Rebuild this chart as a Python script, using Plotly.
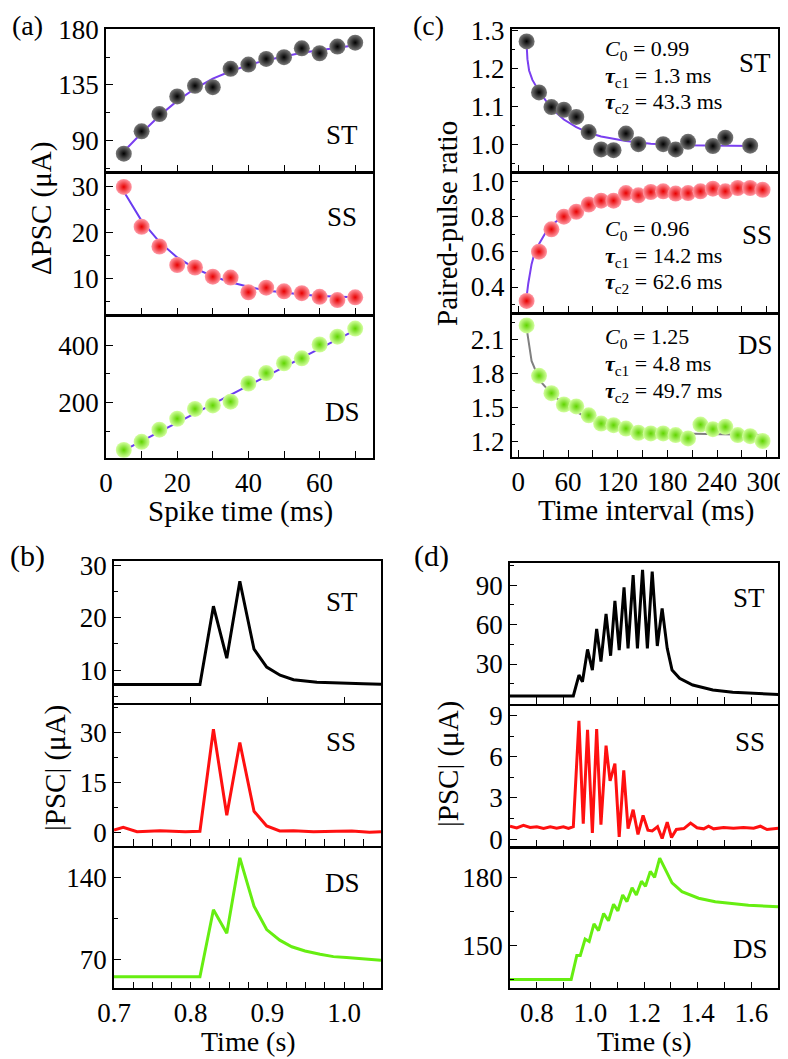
import plotly.graph_objects as go

W, H = 788, 1059

# ---------------- panel (a): delta PSC vs spike time ----------------
a_t = [5, 10, 15, 20, 25, 30, 35, 40, 45, 50, 55, 60, 65, 70]
a_st = [79.2, 97.3, 111.3, 125.6, 134.2, 133.1, 148.0, 151.4, 156.0, 157.4, 164.6, 160.6, 166.0, 169.2]
a_st_fit = [81, 96, 110, 122, 132, 140, 146, 151, 155, 158, 161, 163, 165, 167]
a_ss = [30.0, 21.3, 17.0, 12.95, 12.4, 10.4, 10.2, 7.0, 8.0, 7.2, 6.8, 6.0, 5.3, 5.9]
a_ss_fit = [29.0, 22.6, 18.0, 14.6, 12.2, 10.5, 9.2, 8.2, 7.4, 6.9, 6.5, 6.2, 6.0, 5.9]
a_ds = [36.6, 65, 107, 145, 179, 191, 204, 267, 303, 337, 354, 402, 429, 457]
a_ds_fit_t = [5, 70]
a_ds_fit = [35, 452]

# ---------------- panel (c): paired-pulse ratio ----------------
c_t = [10, 25, 40, 55, 70, 85, 100, 115, 130, 145, 160, 175, 190, 205, 220, 235, 250, 265, 280, 295]
c_st_t = [10, 25, 40, 55, 70, 85, 100, 115, 130, 145, 175, 190, 205, 235, 250, 280]
c_st = [1.272, 1.137, 1.098, 1.091, 1.072, 1.032, 0.986, 0.984, 1.028, 1.0,
        1.0, 0.986, 1.006, 0.995, 1.017, 0.996]
c_st_fit_t = [10, 11, 13, 17, 25, 40, 55, 70, 85, 100, 130, 160, 200, 250, 285]
c_st_fit = [1.265, 1.225, 1.195, 1.17, 1.14, 1.095, 1.065, 1.045, 1.03, 1.02,
            1.008, 1.001, 0.997, 0.995, 0.995]
c_ss = [0.321, 0.601, 0.728, 0.80, 0.828, 0.869, 0.891, 0.891, 0.934, 0.921,
        0.94, 0.944, 0.931, 0.934, 0.944, 0.959, 0.944, 0.963, 0.963, 0.953]
c_ss_fit_t = [10, 12, 16, 20, 25, 33, 41, 50, 58, 75, 95, 116, 157, 199, 240, 295]
c_ss_fit = [0.344, 0.42, 0.53, 0.6, 0.644, 0.71, 0.756, 0.79, 0.816, 0.85,
            0.878, 0.897, 0.925, 0.94, 0.948, 0.953]
c_ds = [2.225, 1.779, 1.625, 1.525, 1.508, 1.429, 1.356, 1.342, 1.312, 1.275,
        1.269, 1.269, 1.254, 1.225, 1.347, 1.307, 1.327, 1.254, 1.245, 1.202]
c_ds_fit_t = [10, 12, 16, 26, 42, 58, 74, 95, 115, 135, 155, 195, 236, 295]
c_ds_fit = [2.2, 2.1, 1.91, 1.735, 1.604, 1.517, 1.444, 1.371, 1.327, 1.298,
            1.283, 1.269, 1.263, 1.254]

# ---------------- panel (b): paired pulse response ----------------
b_st_t = [0.70, 0.812, 0.8296, 0.847, 0.864, 0.8825, 0.899, 0.9165, 0.934, 0.95,
          0.9645, 0.985, 1.0, 1.025, 1.048]
b_st = [7.3, 7.3, 22.2, 12.3, 26.95, 14.0, 10.6, 9.05, 8.2, 7.9, 7.7, 7.6, 7.5, 7.4, 7.35]
b_ss_t = [0.70, 0.712, 0.73, 0.76, 0.793, 0.812, 0.8296, 0.847, 0.864, 0.8825,
          0.899, 0.916, 0.934, 0.96, 0.99, 1.01, 1.033, 1.048]
b_ss = [0.7, 1.5, 0.2, 0.5, 0.2, 0.3, 30.9, 5.1, 26.9, 6.3, 1.9, 0.4, 0.5, 0.2, 0.3, 0.4, 0.0, 0.2]
b_ds_t = [0.70, 0.812, 0.8296, 0.847, 0.864, 0.8825, 0.899, 0.916, 0.9317, 0.949,
          0.9686, 0.986, 1.003, 1.029, 1.048]
b_ds = [55.4, 55.4, 112.3, 92.4, 156.4, 115.3, 95.5, 86.5, 80.9, 77.3, 74.5, 72.5, 71.7, 70.3, 69.5]

# ---------------- panel (d): pulse train response ----------------
d_st_t = [0.70, 0.936, 0.957, 0.97, 0.989, 1.007, 1.023, 1.039, 1.058, 1.075,
          1.091, 1.107, 1.125, 1.140, 1.159, 1.175, 1.194, 1.212, 1.230, 1.249,
          1.267, 1.286, 1.304, 1.332, 1.381, 1.456, 1.53, 1.604, 1.70]
d_st = [5.7, 5.7, 21.6, 16.5, 41.1, 25.4, 56.6, 31.8, 68.0, 36.3,
        77.9, 40.6, 88.2, 41.9, 97.5, 41.9, 101.5, 41.9, 100.3, 43.7,
        72.3, 41.9, 25.4, 19.1, 14.0, 10.2, 8.5, 7.7, 6.9]
d_ss_t = [0.70, 0.725, 0.75, 0.775, 0.80, 0.825, 0.85, 0.874, 0.899, 0.918, 0.936,
          0.957, 0.973, 0.989, 1.007, 1.023, 1.039, 1.058, 1.073, 1.091, 1.107,
          1.124, 1.14, 1.159, 1.177, 1.196, 1.214, 1.23, 1.25, 1.267, 1.286,
          1.302, 1.32, 1.348, 1.373, 1.397, 1.422, 1.44, 1.459, 1.496, 1.533,
          1.57, 1.608, 1.633, 1.658, 1.70]
d_ss = [0.94, 0.82, 1.0, 0.85, 0.9, 0.78, 0.9, 0.8, 0.9, 0.78, 0.9,
        8.6, 1.13, 7.96, 0.45, 8.0, 1.06, 6.8, 4.24, 5.49, 0.17,
        5.01, 0.77, 2.14, 0.34, 1.73, 0.65, 0.6, 0.9, 0.05, 1.24,
        0.12, 0.7, 0.77, 1.17, 0.83, 0.75, 0.94, 0.75, 0.85, 0.8,
        0.85, 0.8, 0.94, 0.7, 0.8]
d_ds_t = [0.70, 0.928, 0.949, 0.962, 0.98, 0.995, 1.013, 1.03, 1.049, 1.067,
          1.086, 1.102, 1.12, 1.136, 1.155, 1.171, 1.19, 1.205, 1.223, 1.239,
          1.258, 1.279, 1.304, 1.341, 1.403, 1.465, 1.527, 1.589, 1.70]
d_ds = [134.9, 134.9, 145.6, 145.6, 152.9, 151.8, 159.6, 156.6, 164.2, 161.0,
        168.3, 165.4, 172.4, 169.5, 175.6, 172.4, 178.5, 176.3, 182.9, 180.3,
        188.8, 183.7, 177.8, 173.9, 171.0, 169.4, 168.6, 167.9, 167.2]

FONT = "Liberation Serif"
TICKFONT = dict(family=FONT, size=27, color="black")
LW = 1.5
OFF = 8  # the page's body margin moves the figure 8 px right and down


def px(x):
    return (x - OFF) / W


def py(y):
    return 1 - (y - OFF) / H


fig = go.Figure()
layout = {}


def add_axes(n, xpx, ypx, xrange, xdtick, xminor, ydtick, yminor, yrange,
             show_x=False, xfmt=None, yfmt=None, yvals=None):
    suffix = "" if n == 1 else str(n)
    xa = dict(
        domain=[px(xpx[0]), px(xpx[1])], range=xrange, anchor="y" + suffix,
        showline=True, linecolor="black", linewidth=LW, mirror=True, automargin=False,
        ticks="inside", ticklen=7, tickwidth=1.3, tickcolor="black",
        showgrid=False, zeroline=False, tick0=0, dtick=xdtick,
        minor=dict(ticks="inside", ticklen=7, tickwidth=1.3, tickcolor="black", dtick=xminor),
        showticklabels=show_x, tickfont=TICKFONT,
    )
    if xfmt:
        xa["tickformat"] = xfmt
    ya = dict(
        domain=[py(ypx[1]), py(ypx[0])], range=yrange, anchor="x" + suffix,
        showline=True, linecolor="black", linewidth=LW, mirror=True, automargin=False,
        ticks="inside", ticklen=7, tickwidth=1.3, tickcolor="black",
        showgrid=False, zeroline=False, tick0=0, dtick=ydtick,
        minor=dict(ticks="inside", ticklen=4, tickwidth=1.3, tickcolor="black", dtick=yminor),
        tickfont=TICKFONT,
    )
    if yfmt:
        ya["tickformat"] = yfmt
    if yvals:
        ya["tickmode"] = "array"
        ya["tickvals"] = yvals
    layout["xaxis" + suffix] = xa
    layout["yaxis" + suffix] = ya
    return "x" + suffix, "y" + suffix


def spheres(xa, ya, x, y, light, dark):
    # shaded balls: light centre fading to a dark rim
    fig.add_trace(go.Scatter(x=x, y=y, mode="markers", xaxis=xa, yaxis=ya, showlegend=False,
                             marker=dict(size=16, color=light, line=dict(width=0),
                                         gradient=dict(type="radial", color=dark))))


def line(xa, ya, x, y, color, width=2):
    fig.add_trace(go.Scatter(x=x, y=y, mode="lines", xaxis=xa, yaxis=ya, showlegend=False,
                             line=dict(color=color, width=width)))


BLACK = ("#7a7a7a", "#000000")
RED = ("#ff9aa6", "#e80000")
GREEN = ("#d4ffa0", "#5fd400")
FIT = "#6a3cf0"


# lower panels start one line-width below the shared border so both lines overlap
def rows(top, b1, b2, bottom):
    return [top, b1], [b1 + LW, b2], [b2 + LW, bottom]


# panel (a)
ax_x = [106, 373]
r1, r2, r3 = rows(29.3, 171.7, 314.7, 457.7)
xa, ya = add_axes(1, ax_x, r1, [0, 75], 10, 10, 45, 22.5, [64.6, 180])
line(xa, ya, a_t, a_st_fit, "#7a3ff0")
spheres(xa, ya, a_t, a_st, *BLACK)
xa, ya = add_axes(2, ax_x, r2, [0, 75], 10, 10, 10, 5, [2.1, 33])
line(xa, ya, a_t, a_ss_fit, FIT)
spheres(xa, ya, a_t, a_ss, *RED)
xa, ya = add_axes(3, ax_x, r3, [0, 75], 20, 10, 200, 100, [10, 500], show_x=True)
line(xa, ya, a_ds_fit_t, a_ds_fit, FIT)
spheres(xa, ya, a_t, a_ds, *GREEN)

# panel (c)
cx = [511.7, 778.3]
r1, r2, r3 = rows(29.3, 171.7, 312.7, 456.7)
xa, ya = add_axes(4, cx, r1, [-8, 314], 30, 30, 0.1, 0.05, [0.927, 1.304], yfmt=".1f")
line(xa, ya, c_st_fit_t, c_st_fit, "#7a3ff0")
spheres(xa, ya, c_st_t, c_st, *BLACK)
xa, ya = add_axes(5, cx, r2, [-8, 314], 30, 30, 0.2, 0.1, [0.254, 1.047], yfmt=".1f")
line(xa, ya, c_ss_fit_t, c_ss_fit, "#7a3ff0")
spheres(xa, ya, c_t, c_ss, *RED)
xa, ya = add_axes(6, cx, r3, [-8, 314], 60, 30, 0.3, 0.15, [1.063, 2.324], show_x=True, yfmt=".1f")
line(xa, ya, c_ds_fit_t, c_ds_fit, "#808080")
spheres(xa, ya, c_t, c_ds, *GREEN)

# panel (b)
bx = [114, 381]
r1, r2, r3 = rows(561, 703.3, 846, 988.3)
xa, ya = add_axes(7, bx, r1, [0.7, 1.048], 0.1, 0.1, 10, 5, [3.7, 30.8])
line(xa, ya, b_st_t, b_st, "black", 3)
xa, ya = add_axes(8, bx, r2, [0.7, 1.048], 0.1, 0.025, 15, 7.5, [-4.1, 38.2])
line(xa, ya, b_ss_t, b_ss, "#ff1010", 3)
xa, ya = add_axes(9, bx, r3, [0.7, 1.048], 0.1, 0.025, 70, 35, [45.6, 165.2], show_x=True, xfmt=".1f")
line(xa, ya, b_ds_t, b_ds, "#66ee11", 3)

# panel (d)
dx = [510, 778.3]
r1, r2, r3 = rows(562.7, 704, 846.7, 988.3)
xa, ya = add_axes(10, dx, r1, [0.7, 1.7], 0.1, 0.1, 30, 15, [-0.4, 107], yvals=[30, 60, 90])
line(xa, ya, d_st_t, d_st, "black", 3)
xa, ya = add_axes(11, dx, r2, [0.7, 1.7], 0.1, 0.1, 3, 1.5, [-0.55, 9.72])
line(xa, ya, d_ss_t, d_ss, "#ff1010", 3)
xa, ya = add_axes(12, dx, r3, [0.7, 1.7], 0.2, 0.1, 30, 15, [131, 193.2], show_x=True, xfmt=".1f")
line(xa, ya, d_ds_t, d_ds, "#66ee11", 3)

annotations = []


def text(s, x, y, size=26, xanchor="center", angle=0):
    annotations.append(dict(text=s, x=px(x), y=py(y), xref="paper", yref="paper",
                            xanchor=xanchor, yanchor="middle", showarrow=False, textangle=angle,
                            font=dict(family=FONT, size=size, color="black")))


# panel tags
text("(a)", 27, 26, 28)
text("(c)", 428, 26, 28)
text("(b)", 27, 556, 30)
text("(d)", 431, 556, 30)

# sub-panel names
for s, x, y in [("ST", 342, 135), ("SS", 342, 216.7), ("DS", 342, 411.7),
                ("ST", 755, 63), ("SS", 757, 235), ("DS", 755, 345),
                ("ST", 342, 601.7), ("SS", 341, 741.7), ("DS", 342, 883.3),
                ("ST", 749, 598.3), ("SS", 750, 741.7), ("DS", 750, 949.3)]:
    text(s, x, y, 27)

# fit parameters
for lines_, ys in [(["<i>C</i><sub>0</sub> = 0.99", "<i><b>τ</b></i><sub>c1</sub> = 1.3 ms", "<i><b>τ</b></i><sub>c2</sub> = 43.3 ms"], [50, 77, 103]),
                   (["<i>C</i><sub>0</sub> = 0.96", "<i><b>τ</b></i><sub>c1</sub> = 14.2 ms", "<i><b>τ</b></i><sub>c2</sub> = 62.6 ms"], [230, 257, 283]),
                   (["<i>C</i><sub>0</sub> = 1.25", "<i><b>τ</b></i><sub>c1</sub> = 4.8 ms", "<i><b>τ</b></i><sub>c2</sub> = 49.7 ms"], [338, 365, 392])]:
    for s, y in zip(lines_, ys):
        text(s, 603, y, 22, xanchor="left")

# axis titles
text("ΔPSC (μA)", 41, 209, 29, angle=-90)
text("Paired-pulse ratio", 447, 224, 29, angle=-90)
text("|PSC| (μA)", 55, 768, 29, angle=-90)
text("|PSC| (μA)", 449, 764, 29, angle=-90)
text("Spike time (ms)", 240, 511, 29)
text("Time interval (ms)", 646, 510, 29)
text("Time (s)", 248, 1041, 28)
text("Time (s)", 644, 1041, 28)

fig.update_layout(layout)
fig.update_layout(
    width=W, height=H, margin=dict(l=0, r=0, t=0, b=0),
    paper_bgcolor="white", plot_bgcolor="white",
    annotations=annotations, showlegend=False,
    font=dict(family=FONT, color="black"),
)

fig.write_html("out.html")
